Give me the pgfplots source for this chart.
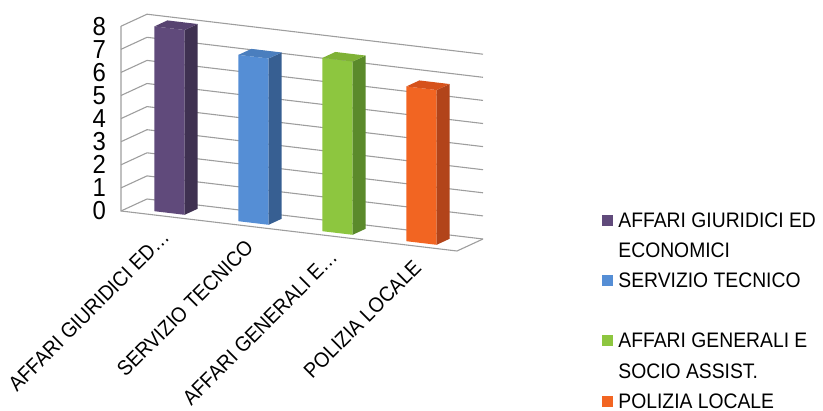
\documentclass[border=0pt]{standalone}
\usepackage{fontspec}
\setmainfont{Liberation Sans}[FakeStretch=0.92]
\usepackage{pgfplots}
\pgfplotsset{compat=1.18}
\usetikzlibrary{calc}
\definecolor{purF}{HTML}{604A7B}\definecolor{purS}{HTML}{3F3151}\definecolor{purT}{HTML}{574370}
\definecolor{bluF}{HTML}{558ED5}\definecolor{bluS}{HTML}{375F92}\definecolor{bluT}{HTML}{4A7EBE}
\definecolor{grnF}{HTML}{8DC63F}\definecolor{grnS}{HTML}{5B8A2B}\definecolor{grnT}{HTML}{7FB236}
\definecolor{orgF}{HTML}{F26522}\definecolor{orgS}{HTML}{B2441A}\definecolor{orgT}{HTML}{D6521B}
\definecolor{gridc}{HTML}{9E9E9E}
\begin{document}
\begin{tikzpicture}
\begin{axis}[
  x={(42pt,-5pt)}, y={(13pt,6pt)}, z={(0pt,11.55pt)},
  xmin=-0.5, xmax=3.5, ymin=0, ymax=1, zmin=0, zmax=8,
  xtick={0,1,2,3},
  xticklabels={AFFARI GIURIDICI ED…, SERVIZIO TECNICO, AFFARI GENERALI E…, POLIZIA LOCALE},
  ytick=\empty, ztick={0,1,...,8},
  zmajorgrids, grid style={gridc, line width=0.55pt},
  axis line style={draw=none},
  major tick length=0pt,
  /pgf/number format/assume math mode=true,
  zticklabel style={font=\fontsize{13}{13}\selectfont, anchor=east, xshift=-4pt},
  xticklabel style={font=\fontsize{10.5}{12}\selectfont, rotate=45, anchor=north east, xshift=-2pt},
  clip=false,
  legend style={at={(1.31,0.2)}, anchor=north west, draw=none, fill=none,
    font=\fontsize{10.5}{12}\selectfont, row sep=2.1pt, column sep=1pt,
    cells={anchor=base west, inner sep=0pt, text height=7.5pt, text depth=2pt}},
  legend image code/.code={\fill[#1] (0pt,1pt) rectangle (5pt,6pt);},
]
\coordinate (O) at (axis cs:-0.5,0,0);
% bar 1: 8
\addplot3[fill=purF, draw=none, forget plot] coordinates {(-0.18,0.25,0) (0.18,0.25,0) (0.18,0.25,8) (-0.18,0.25,8)};
\addplot3[fill=purS, draw=none, forget plot] coordinates {(0.18,0.25,0) (0.18,0.75,0) (0.18,0.75,8) (0.18,0.25,8)};
\addplot3[fill=purT, draw=none, forget plot] coordinates {(-0.18,0.25,8) (0.18,0.25,8) (0.18,0.75,8) (-0.18,0.75,8)};
% bar 2: 7.2
\addplot3[fill=bluF, draw=none, forget plot] coordinates {(0.82,0.25,0) (1.18,0.25,0) (1.18,0.25,7.2) (0.82,0.25,7.2)};
\addplot3[fill=bluS, draw=none, forget plot] coordinates {(1.18,0.25,0) (1.18,0.75,0) (1.18,0.75,7.2) (1.18,0.25,7.2)};
\addplot3[fill=bluT, draw=none, forget plot] coordinates {(0.82,0.25,7.2) (1.18,0.25,7.2) (1.18,0.75,7.2) (0.82,0.75,7.2)};
% bar 3: 7.5
\addplot3[fill=grnF, draw=none, forget plot] coordinates {(1.82,0.25,0) (2.18,0.25,0) (2.18,0.25,7.5) (1.82,0.25,7.5)};
\addplot3[fill=grnS, draw=none, forget plot] coordinates {(2.18,0.25,0) (2.18,0.75,0) (2.18,0.75,7.5) (2.18,0.25,7.5)};
\addplot3[fill=grnT, draw=none, forget plot] coordinates {(1.82,0.25,7.5) (2.18,0.25,7.5) (2.18,0.75,7.5) (1.82,0.75,7.5)};
% bar 4: 6.7
\addplot3[fill=orgF, draw=none, forget plot] coordinates {(2.82,0.25,0) (3.18,0.25,0) (3.18,0.25,6.7) (2.82,0.25,6.7)};
\addplot3[fill=orgS, draw=none, forget plot] coordinates {(3.18,0.25,0) (3.18,0.75,0) (3.18,0.75,6.7) (3.18,0.25,6.7)};
\addplot3[fill=orgT, draw=none, forget plot] coordinates {(2.82,0.25,6.7) (3.18,0.25,6.7) (3.18,0.75,6.7) (2.82,0.75,6.7)};
% frame edges
\draw[gridc, line width=0.55pt] (axis cs:-0.5,0,8) -- (axis cs:-0.5,0,0) -- (axis cs:3.5,0,0) -- (axis cs:3.5,1,0);
\addlegendimage{purF}
\addlegendentry{AFFARI GIURIDICI ED}
\addlegendimage{empty legend}
\addlegendentry{ECONOMICI}
\addlegendimage{bluF}
\addlegendentry{SERVIZIO TECNICO}
\addlegendimage{empty legend}
\addlegendentry{\mbox{}}
\addlegendimage{grnF}
\addlegendentry{AFFARI GENERALI E}
\addlegendimage{empty legend}
\addlegendentry{SOCIO ASSIST.}
\addlegendimage{orgF}
\addlegendentry{POLIZIA LOCALE}
\end{axis}
\pgfresetboundingbox
\path[use as bounding box] ($(O)+(-60.5pt,-100pt)$) rectangle ($(O)+(351pt,105.5pt)$);
\end{tikzpicture}
\end{document}
